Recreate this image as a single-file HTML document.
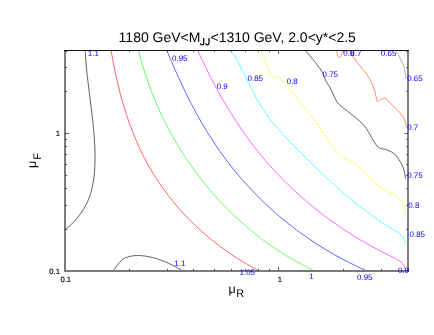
<!DOCTYPE html>
<html><head><meta charset="utf-8"><style>
html,body{margin:0;padding:0;background:#fff;}
body{width:434px;height:335px;overflow:hidden;font-family:"Liberation Sans",sans-serif;}
svg{display:block;}
text{font-family:"Liberation Sans",sans-serif;text-rendering:geometricPrecision;}
</style></head><body>
<svg width="434" height="335" viewBox="0 0 434 335" style="will-change:transform">
<rect width="434" height="335" fill="#fff"/>
<g>
<path d="M85.2,51.0 C85.3,52.0 85.4,55.1 85.6,57.2 C85.7,59.3 85.9,61.4 86.0,63.5 C86.2,65.6 86.4,67.7 86.6,69.8 C86.8,71.9 87.1,74.1 87.3,76.2 C87.5,78.3 87.8,80.5 88.1,82.6 C88.3,84.8 88.6,87.0 88.9,89.1 C89.1,91.3 89.4,93.5 89.7,95.6 C90.0,97.8 90.2,100.0 90.5,102.2 C90.8,104.4 91.1,106.6 91.3,108.8 C91.6,111.0 91.9,113.1 92.1,115.3 C92.4,117.5 92.6,119.7 92.9,121.9 C93.1,124.1 93.3,126.3 93.5,128.5 C93.7,130.7 93.9,132.9 94.1,135.1 C94.3,137.3 94.4,139.5 94.5,141.7 C94.7,143.9 94.8,146.0 94.9,148.2 C94.9,150.4 95.0,152.6 95.0,154.7 C95.0,156.9 95.0,159.1 95.0,161.2 C95.0,163.4 94.9,165.5 94.8,167.6 C94.7,169.8 94.5,171.9 94.3,174.0 C94.1,176.1 93.9,178.2 93.6,180.3 C93.2,182.4 92.9,184.4 92.4,186.5 C92.0,188.5 91.5,190.5 90.9,192.5 C90.3,194.5 89.7,196.5 88.9,198.4 C88.2,200.3 87.3,202.2 86.4,204.1 C85.5,206.0 84.5,207.8 83.3,209.6 C82.2,211.4 81.0,213.2 79.7,214.9 C78.4,216.7 77.0,218.3 75.5,220.0 C74.1,221.6 72.5,223.2 70.8,224.8 C69.1,226.3 66.4,228.6 65.5,229.3" fill="none" stroke="#000000" stroke-width="1.0" stroke-opacity="0.62"/>
<path d="M113.8,270.0 C114.8,268.7 117.9,264.1 120.0,262.0 C122.1,259.9 123.3,258.6 126.2,257.5 C129.2,256.4 133.1,255.5 137.5,255.5 C141.9,255.5 147.4,256.2 152.5,257.5 C157.6,258.8 163.2,260.9 168.0,263.0 C172.8,265.1 179.0,268.8 181.2,270.0" fill="none" stroke="#000000" stroke-width="1.0" stroke-opacity="0.62"/>
<path d="M111.2,51.0 C111.5,52.8 112.5,58.3 113.2,61.9 C113.8,65.6 114.6,69.2 115.3,72.8 C116.1,76.4 116.9,80.0 117.8,83.6 C118.6,87.2 119.5,90.7 120.4,94.3 C121.4,97.8 122.4,101.3 123.4,104.8 C124.4,108.3 125.5,111.8 126.7,115.3 C127.8,118.7 129.0,122.2 130.3,125.6 C131.5,129.0 132.8,132.4 134.2,135.7 C135.6,139.1 137.0,142.4 138.5,145.7 C140.0,149.0 141.5,152.2 143.1,155.5 C144.8,158.7 146.5,161.9 148.2,165.1 C150.0,168.2 151.8,171.3 153.7,174.4 C155.6,177.5 157.6,180.5 159.6,183.6 C161.7,186.6 163.8,189.5 166.0,192.4 C168.1,195.4 170.4,198.2 172.7,201.1 C175.0,203.9 177.4,206.7 179.8,209.4 C182.2,212.2 184.7,214.9 187.3,217.5 C189.8,220.1 192.4,222.7 195.1,225.3 C197.7,227.8 200.5,230.3 203.2,232.7 C206.0,235.2 208.8,237.5 211.7,239.9 C214.5,242.2 217.4,244.4 220.4,246.6 C223.3,248.8 226.3,251.0 229.3,253.0 C232.4,255.1 235.4,257.1 238.5,259.1 C241.7,261.0 244.8,262.9 248.0,264.7 C251.2,266.6 256.0,269.1 257.6,270.0" fill="none" stroke="#ff0000" stroke-width="1.0" stroke-opacity="0.6"/>
<path d="M138.7,51.0 C139.2,52.7 140.5,57.9 141.4,61.3 C142.4,64.8 143.4,68.2 144.5,71.6 C145.6,75.0 146.7,78.4 147.9,81.7 C149.0,85.1 150.3,88.5 151.6,91.8 C152.9,95.1 154.2,98.4 155.6,101.7 C157.0,105.0 158.4,108.3 159.9,111.5 C161.4,114.8 163.0,118.0 164.5,121.2 C166.1,124.4 167.8,127.6 169.5,130.7 C171.2,133.9 172.9,137.0 174.7,140.1 C176.5,143.2 178.3,146.2 180.2,149.3 C182.1,152.3 184.0,155.3 186.0,158.3 C188.0,161.3 190.0,164.2 192.1,167.1 C194.2,170.0 196.3,172.9 198.4,175.8 C200.6,178.6 202.8,181.4 205.1,184.2 C207.3,186.9 209.6,189.7 211.9,192.4 C214.3,195.1 216.6,197.7 219.1,200.3 C221.5,203.0 224.0,205.5 226.5,208.1 C229.0,210.6 231.5,213.1 234.1,215.6 C236.7,218.0 239.3,220.4 242.0,222.8 C244.6,225.2 247.3,227.5 250.1,229.7 C252.8,232.0 255.6,234.2 258.4,236.4 C261.2,238.6 264.1,240.7 267.0,242.8 C269.9,244.9 272.8,246.9 275.8,248.9 C278.7,250.9 281.7,252.8 284.8,254.7 C287.8,256.5 290.9,258.3 294.0,260.1 C297.1,261.9 300.2,263.6 303.4,265.2 C306.6,266.9 311.4,269.2 313.0,270.0" fill="none" stroke="#00ff00" stroke-width="1.0" stroke-opacity="0.6"/>
<path d="M167.0,51.0 C167.8,52.7 170.0,58.0 171.5,61.5 C173.0,65.0 174.5,68.4 176.0,71.9 C177.5,75.3 179.1,78.7 180.7,82.1 C182.3,85.5 183.9,88.9 185.5,92.3 C187.2,95.7 188.8,99.0 190.5,102.3 C192.3,105.6 194.0,108.9 195.8,112.2 C197.5,115.5 199.4,118.7 201.2,122.0 C203.1,125.2 205.0,128.4 206.9,131.5 C208.9,134.7 210.8,137.8 212.9,140.9 C214.9,144.1 217.0,147.1 219.1,150.2 C221.3,153.2 223.4,156.2 225.7,159.2 C227.9,162.2 230.2,165.1 232.5,168.1 C234.8,171.0 237.2,173.9 239.6,176.7 C242.0,179.5 244.5,182.3 247.0,185.1 C249.5,187.9 252.1,190.6 254.7,193.3 C257.3,196.0 260.0,198.6 262.7,201.2 C265.4,203.8 268.1,206.4 270.9,208.9 C273.7,211.5 276.6,213.9 279.4,216.4 C282.3,218.8 285.2,221.2 288.2,223.5 C291.1,225.9 294.1,228.2 297.1,230.4 C300.1,232.7 303.2,234.9 306.3,237.0 C309.4,239.2 312.5,241.3 315.6,243.3 C318.8,245.4 322.0,247.4 325.2,249.3 C328.4,251.3 331.6,253.2 334.9,255.0 C338.2,256.8 341.5,258.6 344.8,260.3 C348.1,262.1 351.5,263.7 354.8,265.3 C358.2,267.0 363.3,269.2 365.0,270.0" fill="none" stroke="#0000ff" stroke-width="1.0" stroke-opacity="0.6"/>
<path d="M198.0,51.0 C198.6,52.4 200.5,56.5 201.8,59.2 C203.1,61.9 204.4,64.7 205.7,67.4 C207.0,70.1 208.4,72.7 209.7,75.4 C211.1,78.1 212.4,80.7 213.8,83.4 C215.2,86.0 216.6,88.6 218.1,91.2 C219.5,93.8 221.0,96.4 222.4,99.0 C223.9,101.6 225.4,104.1 226.9,106.7 C228.5,109.2 230.0,111.7 231.6,114.2 C233.2,116.7 234.7,119.2 236.4,121.7 C238.0,124.1 239.6,126.6 241.3,129.0 C242.9,131.4 244.6,133.8 246.3,136.2 C248.1,138.6 249.8,140.9 251.6,143.3 C253.3,145.6 255.1,148.0 257.0,150.3 C258.8,152.6 260.6,154.8 262.5,157.1 C264.4,159.4 266.3,161.6 268.2,163.8 C270.2,166.0 272.1,168.2 274.1,170.4 C276.1,172.6 278.2,174.7 280.2,176.8 C282.3,179.0 284.3,181.1 286.5,183.1 C288.6,185.2 290.7,187.3 292.9,189.3 C295.0,191.3 297.2,193.3 299.5,195.3 C301.7,197.3 303.9,199.3 306.2,201.2 C308.5,203.1 310.7,205.0 313.1,206.9 C315.4,208.8 317.7,210.6 320.1,212.5 C322.4,214.3 324.8,216.1 327.2,217.9 C329.6,219.6 332.0,221.4 334.5,223.1 C336.9,224.8 339.4,226.5 341.8,228.2 C344.3,229.8 346.8,231.5 349.3,233.1 C351.8,234.7 354.4,236.3 356.9,237.8 C359.4,239.3 362.0,240.9 364.6,242.4 C367.1,243.8 369.7,245.3 372.3,246.7 C374.9,248.2 377.5,249.6 380.2,250.9 C382.8,252.3 385.4,253.6 388.0,254.9 C390.7,256.2 394.7,258.1 396.0,258.7" fill="none" stroke="#ff00ff" stroke-width="1.0" stroke-opacity="0.6"/>
<path d="M396.0,258.8 C396.8,259.3 399.7,260.9 401.0,262.0 C402.3,263.1 403.1,264.2 403.8,265.5 C404.6,266.8 405.2,269.2 405.5,270.0" fill="none" stroke="#ff00ff" stroke-width="1.0" stroke-opacity="0.6"/>
<path d="M231.2,51.0 C232.1,52.3 234.7,56.2 236.3,58.9 C237.9,61.5 239.4,64.2 240.8,67.0 C242.2,69.7 243.6,72.4 244.9,75.2 C246.2,77.9 247.5,80.7 248.9,83.4 C250.2,86.2 251.5,88.9 252.9,91.6 C254.2,94.3 255.6,97.0 257.1,99.6 C258.6,102.2 260.1,104.8 261.7,107.4 C263.4,109.9 265.1,112.4 266.8,114.9 C268.6,117.4 270.5,119.8 272.4,122.2 C274.3,124.5 276.3,126.9 278.3,129.2 C280.3,131.5 282.4,133.8 284.5,136.0 C286.6,138.3 288.8,140.5 290.9,142.8 C293.1,145.0 295.3,147.2 297.4,149.4 C299.6,151.6 301.8,153.8 304.0,155.9 C306.2,158.1 308.3,160.3 310.5,162.4 C312.7,164.6 314.9,166.7 317.1,168.8 C319.3,171.0 321.5,173.1 323.7,175.2 C326.0,177.3 328.2,179.4 330.4,181.4 C332.7,183.5 334.9,185.5 337.2,187.5 C339.5,189.6 341.8,191.6 344.1,193.6 C346.4,195.5 348.7,197.5 351.0,199.4 C353.4,201.4 355.7,203.3 358.1,205.2 C360.5,207.1 362.9,208.9 365.4,210.7 C367.8,212.6 370.3,214.4 372.7,216.2 C375.2,217.9 377.8,219.7 380.3,221.4 C382.9,223.1 385.4,224.8 388.1,226.4 C390.7,228.1 394.7,230.4 396.0,231.3" fill="none" stroke="#00ffff" stroke-width="1.0" stroke-opacity="0.6"/>
<path d="M396.0,231.2 C396.8,231.9 399.7,233.7 401.0,235.0 C402.3,236.3 403.1,237.5 403.8,239.0 C404.6,240.5 405.2,243.0 405.5,243.8" fill="none" stroke="#00ffff" stroke-width="1.0" stroke-opacity="0.6"/>
<path d="M261.2,51.0 C261.9,52.7 264.1,58.2 265.3,61.0 C266.5,63.8 267.7,65.9 268.4,68.0 C269.1,70.1 268.9,72.2 269.7,73.5 C270.5,74.8 271.9,75.4 273.2,76.0 C274.5,76.6 275.9,76.4 277.3,77.0 C278.7,77.6 280.1,78.5 281.5,79.8 C282.9,81.1 283.9,82.6 285.6,84.6 C287.3,86.5 290.0,89.3 291.9,91.5 C293.8,93.7 295.2,95.8 297.0,98.0 C298.8,100.2 300.2,102.0 302.5,105.0 C304.8,108.0 308.0,112.0 311.0,116.0 C314.0,120.0 316.8,123.1 320.8,128.8 C324.8,134.4 331.4,145.3 335.0,150.0 C338.6,154.7 339.2,154.7 342.5,157.0 C345.8,159.3 350.8,160.8 355.0,163.8 C359.2,166.8 363.8,171.2 367.8,175.0 C371.8,178.8 374.5,183.4 379.0,186.7 C383.5,190.0 391.1,192.6 394.8,195.0 C398.4,197.4 399.3,199.0 401.0,201.2 C402.7,203.5 404.0,206.9 404.8,208.8 C405.5,210.6 405.4,211.9 405.5,212.5" fill="none" stroke="#ffff00" stroke-width="1.0" stroke-opacity="0.6"/>
<path d="M305.8,51.0 C307.3,52.8 312.2,58.4 315.0,62.0 C317.8,65.6 320.7,69.3 322.5,72.5 C324.3,75.7 324.8,78.8 326.0,81.2 C327.2,83.8 328.2,84.2 330.0,87.5 C331.8,90.8 334.7,98.2 336.5,101.2 C338.3,104.3 339.2,104.3 341.0,106.0 C342.8,107.7 344.3,108.7 347.5,111.2 C350.7,113.8 356.8,118.3 360.0,121.2 C363.2,124.2 364.7,126.2 366.5,128.8 C368.3,131.3 369.2,133.6 371.0,136.5 C372.8,139.4 375.3,144.0 377.0,146.0 C378.7,148.0 379.3,147.8 381.0,148.5 C382.7,149.2 384.9,148.9 387.3,150.0 C389.8,151.1 393.2,152.5 395.7,155.0 C398.1,157.5 400.5,162.2 402.0,165.0 C403.5,167.8 403.9,169.7 404.5,172.0 C405.1,174.3 405.3,177.6 405.5,178.8" fill="none" stroke="#000000" stroke-width="1.0" stroke-opacity="0.62"/>
<path d="M336.7,51.5 C336.9,52.2 337.4,55.0 337.8,56.0 C338.2,57.0 338.8,57.5 339.3,57.5 C339.8,57.5 340.5,57.0 341.0,56.0 C341.5,55.0 342.0,52.2 342.2,51.5" fill="none" stroke="#ff6633" stroke-width="1.0" stroke-opacity="0.75"/>
<path d="M349.8,51.5 C350.8,53.1 353.7,57.9 356.0,61.0 C358.3,64.1 361.3,67.2 363.5,70.0 C365.7,72.8 367.5,75.7 369.0,78.0 C370.5,80.3 371.2,81.4 372.2,83.8 C373.2,86.1 374.2,89.1 375.0,92.0 C375.8,94.9 376.5,99.8 377.2,101.2 C378.0,102.7 378.7,100.9 379.5,100.5 C380.3,100.1 381.2,99.0 382.2,98.8 C383.3,98.5 384.4,97.7 386.0,98.8 C387.6,99.8 389.9,102.9 392.0,105.0 C394.1,107.1 396.8,109.4 398.5,111.2 C400.2,113.1 401.3,114.1 402.5,116.0 C403.7,117.9 404.8,120.6 405.5,122.5 C406.2,124.4 406.3,126.7 406.5,127.5" fill="none" stroke="#ff6633" stroke-width="1.0" stroke-opacity="0.75"/>
<path d="M396.0,51.5 C396.5,52.2 398.2,54.6 399.0,56.0 C399.8,57.4 400.3,58.5 401.0,60.0 C401.7,61.5 402.7,63.3 403.3,65.0 C403.9,66.7 404.3,67.7 404.8,70.0 C405.2,72.3 405.8,77.3 406.0,78.8" fill="none" stroke="#888888" stroke-width="1.0" stroke-opacity="0.7"/>
</g>
<g>
<rect x="64" y="50" width="2" height="222" fill="#7a7a7a"/>
<rect x="407" y="50" width="2" height="222" fill="#7e7e7e"/>
<rect x="64" y="270" width="345" height="2" fill="#7a7a7a"/>
<rect x="64" y="50" width="345" height="1" fill="#111"/>
<rect x="129" y="268.8" width="1" height="2.2" fill="#2a2a2a" fill-opacity="0.75"/><rect x="129" y="50" width="1" height="2.2" fill="#2a2a2a" fill-opacity="0.75"/><rect x="65" y="229" width="2.2" height="1" fill="#2a2a2a" fill-opacity="0.75"/><rect x="406.3" y="229" width="1.7" height="1" fill="#2a2a2a" fill-opacity="0.75"/><rect x="167" y="268.8" width="1" height="2.2" fill="#2a2a2a" fill-opacity="0.75"/><rect x="167" y="50" width="1" height="2.2" fill="#2a2a2a" fill-opacity="0.75"/><rect x="65" y="205" width="2.2" height="1" fill="#2a2a2a" fill-opacity="0.75"/><rect x="406.3" y="205" width="1.7" height="1" fill="#2a2a2a" fill-opacity="0.75"/><rect x="193" y="268.8" width="1" height="2.2" fill="#2a2a2a" fill-opacity="0.75"/><rect x="193" y="50" width="1" height="2.2" fill="#2a2a2a" fill-opacity="0.75"/><rect x="65" y="188" width="2.2" height="1" fill="#2a2a2a" fill-opacity="0.75"/><rect x="406.3" y="188" width="1.7" height="1" fill="#2a2a2a" fill-opacity="0.75"/><rect x="214" y="268.8" width="1" height="2.2" fill="#2a2a2a" fill-opacity="0.75"/><rect x="214" y="50" width="1" height="2.2" fill="#2a2a2a" fill-opacity="0.75"/><rect x="65" y="175" width="2.2" height="1" fill="#2a2a2a" fill-opacity="0.75"/><rect x="406.3" y="175" width="1.7" height="1" fill="#2a2a2a" fill-opacity="0.75"/><rect x="231" y="268.8" width="1" height="2.2" fill="#2a2a2a" fill-opacity="0.75"/><rect x="231" y="50" width="1" height="2.2" fill="#2a2a2a" fill-opacity="0.75"/><rect x="65" y="164" width="2.2" height="1" fill="#2a2a2a" fill-opacity="0.75"/><rect x="406.3" y="164" width="1.7" height="1" fill="#2a2a2a" fill-opacity="0.75"/><rect x="245" y="268.8" width="1" height="2.2" fill="#2a2a2a" fill-opacity="0.75"/><rect x="245" y="50" width="1" height="2.2" fill="#2a2a2a" fill-opacity="0.75"/><rect x="65" y="154" width="2.2" height="1" fill="#2a2a2a" fill-opacity="0.75"/><rect x="406.3" y="154" width="1.7" height="1" fill="#2a2a2a" fill-opacity="0.75"/><rect x="258" y="268.8" width="1" height="2.2" fill="#2a2a2a" fill-opacity="0.75"/><rect x="258" y="50" width="1" height="2.2" fill="#2a2a2a" fill-opacity="0.75"/><rect x="65" y="146" width="2.2" height="1" fill="#2a2a2a" fill-opacity="0.75"/><rect x="406.3" y="146" width="1.7" height="1" fill="#2a2a2a" fill-opacity="0.75"/><rect x="269" y="268.8" width="1" height="2.2" fill="#2a2a2a" fill-opacity="0.75"/><rect x="269" y="50" width="1" height="2.2" fill="#2a2a2a" fill-opacity="0.75"/><rect x="65" y="139" width="2.2" height="1" fill="#2a2a2a" fill-opacity="0.75"/><rect x="406.3" y="139" width="1.7" height="1" fill="#2a2a2a" fill-opacity="0.75"/><rect x="278" y="267.0" width="1" height="4.0" fill="#2a2a2a" fill-opacity="0.75"/><rect x="278" y="50" width="1" height="4.0" fill="#2a2a2a" fill-opacity="0.75"/><rect x="65" y="133" width="4.0" height="1" fill="#2a2a2a" fill-opacity="0.75"/><rect x="404.5" y="133" width="3.5" height="1" fill="#2a2a2a" fill-opacity="0.75"/><rect x="343" y="268.8" width="1" height="2.2" fill="#2a2a2a" fill-opacity="0.75"/><rect x="343" y="50" width="1" height="2.2" fill="#2a2a2a" fill-opacity="0.75"/><rect x="65" y="91" width="2.2" height="1" fill="#2a2a2a" fill-opacity="0.75"/><rect x="406.3" y="91" width="1.7" height="1" fill="#2a2a2a" fill-opacity="0.75"/><rect x="381" y="268.8" width="1" height="2.2" fill="#2a2a2a" fill-opacity="0.75"/><rect x="381" y="50" width="1" height="2.2" fill="#2a2a2a" fill-opacity="0.75"/><rect x="65" y="67" width="2.2" height="1" fill="#2a2a2a" fill-opacity="0.75"/><rect x="406.3" y="67" width="1.7" height="1" fill="#2a2a2a" fill-opacity="0.75"/><rect x="407" y="268.8" width="1" height="2.2" fill="#2a2a2a" fill-opacity="0.75"/><rect x="407" y="50" width="1" height="2.2" fill="#2a2a2a" fill-opacity="0.75"/><rect x="65" y="51" width="2.2" height="1" fill="#2a2a2a" fill-opacity="0.75"/><rect x="406.3" y="51" width="1.7" height="1" fill="#2a2a2a" fill-opacity="0.75"/>
</g>
<g font-size="8" fill="#0000ff" text-rendering="geometricPrecision">
<text x="87.8" y="56.2">1.1</text>
<text x="172" y="61">0.95</text>
<text x="216.7" y="88.7">0.9</text>
<text x="247.5" y="81">0.85</text>
<text x="286.7" y="83.7">0.8</text>
<text x="322.5" y="76.7">0.75</text>
<text x="343.3" y="55.7">0.8</text>
<text x="350.3" y="55.7">0.7</text>
<text x="380.8" y="55.7">0.65</text>
<text x="407.2" y="80.7">0.65</text>
<text x="407.2" y="130">0.7</text>
<text x="407.2" y="177.6">0.75</text>
<text x="408.3" y="207.7">0.8</text>
<text x="409.5" y="236.9">0.85</text>
<text x="398" y="272.6">0.9</text>
<text x="357" y="280">0.95</text>
<text x="309" y="279.3">1</text>
<text x="239.5" y="274.5">1.05</text>
<text x="174.3" y="265.8">1.1</text>
</g>
<g font-size="7.7" fill="#000" stroke="#000" stroke-width="0.15">
<text x="60" y="273.6" text-anchor="end">0.1</text>
<text x="60" y="135.8" text-anchor="end">1</text>
<text x="60.4" y="281.5">0.1</text>
<text x="277.8" y="281.5">1</text>
</g>
<text x="118.6" y="42" font-size="14" fill="#000">1180 GeV&lt;M<tspan dx="10.0">&lt;1310 GeV, 2.0&lt;y*&lt;2.5</tspan></text>
<g fill="none" stroke="#000" stroke-width="1.25">
<path d="M203.7,38.1 L203.7,43.0 C203.7,44.4 203.0,44.9 202.1,44.9 C201.2,44.9 200.5,44.4 200.4,43.3"/>
<path d="M209.0,38.1 L209.0,43.0 C209.0,44.4 208.3,44.9 207.4,44.9 C206.5,44.9 205.8,44.4 205.7,43.3"/>
</g>
<text x="228.4" y="293.3" font-size="12.5" fill="#000">μ<tspan font-size="11" dx="0.6" dy="3.7">R</tspan></text>
<text transform="translate(36.2,168) rotate(-90)" font-size="12.5" fill="#000">μ<tspan font-size="11" dx="1.0" dy="4.8">F</tspan></text>
</svg>
</body></html>
